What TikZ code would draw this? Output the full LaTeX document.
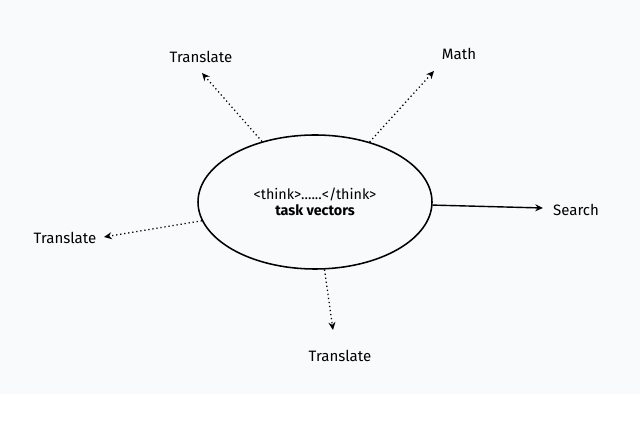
\documentclass[tikz,border=0pt]{standalone}
\usepackage{fontspec}
\setmainfont{Fira Sans}
\usepackage{xcolor}
\usetikzlibrary{shapes.geometric, arrows.meta}
\definecolor{panelgray}{HTML}{F9FAFB}
\tikzset{tasklabel/.style={font=\fontsize{10.7}{12}\selectfont, text=black},
         taskarrow/.style={-{Stealth[length=5.5pt,width=5pt]}, line width=0.9pt}}

\begin{document}
\begin{tikzpicture}

        % Background
        \useasboundingbox (0,0) rectangle (16,10.6);
        \fill[panelgray] (0,0.75) rectangle (16,10.6);

        % Nodes
        \node[ellipse, draw, line width=1.1pt, minimum width=5.85cm, minimum height=3.35cm, inner sep=0pt, align=center,
              font=\fontsize{10.2}{11.5}\selectfont] (core) at (7.875,5.55) {<think>......</think>\\\textbf{task vectors}};
        \node[tasklabel] (transtop) at (5.025,9.175) {Translate};
        \node[tasklabel] (math) at (11.475,9.25) {Math};
        \node[tasklabel] (search) at (14.4,5.35) {Search};
        \node[tasklabel] (transleft) at (1.625,4.65) {Translate};
        \node[tasklabel] (transbottom) at (8.5,1.7) {Translate};

        % Arrow ends
        \coordinate (tiptop) at (5.05,8.775);
        \coordinate (tipmath) at (10.85,8.825);
        \coordinate (tipsearch) at (13.575,5.4);
        \coordinate (tipleft) at (2.6,4.675);
        \coordinate (tipbottom) at (8.325,2.35);

        % Edges
        \draw[taskarrow, dotted] (core) -- (tiptop);
        \draw[taskarrow, dotted] (core) -- (tipmath);
        \draw[taskarrow, line width=1pt] (core) -- (tipsearch);
        \draw[taskarrow, dotted] (core) -- (tipleft);
        \draw[taskarrow, dotted] (core) -- (tipbottom);

    \end{tikzpicture}
\end{document}
